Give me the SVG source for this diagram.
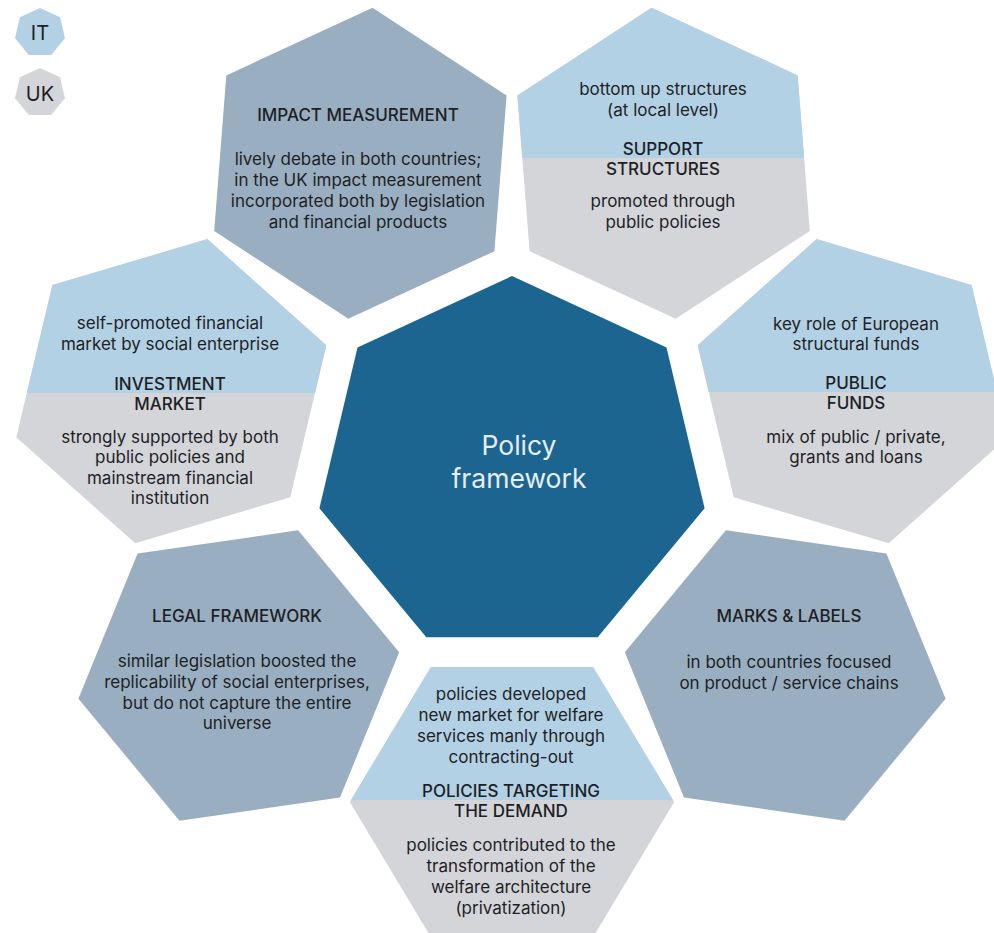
<svg xmlns="http://www.w3.org/2000/svg" width="994" height="933" viewBox="0 0 994 933">
<style>
text{font-family:Inter,Roboto,"Liberation Sans",Arial,sans-serif;fill:#1e1f26;text-anchor:middle}
.b{font-size:17px}
.h{font-size:17px;font-weight:500}
.c{font-size:26.5px;fill:#e8eef3}
.lg{font-size:20px}
.slate{fill:#99aec0}
.lblue{fill:#b3d1e4}
.grey{fill:#d4d5d9}
.core{fill:#1b6590}
</style>
<defs>
<clipPath id="cpS"><rect x="0" y="0" width="994" height="158"/></clipPath>
<clipPath id="cpP"><rect x="0" y="0" width="994" height="392"/></clipPath>
<clipPath id="cpI"><rect x="0" y="0" width="994" height="393"/></clipPath>
<clipPath id="cpD"><rect x="0" y="0" width="994" height="800"/></clipPath>
</defs>
<rect width="994" height="933" fill="#ffffff"/>

<g id="legend-it">
<polygon class="lblue" points="40,8 60.1,17.3 65,38.2 51.1,55 28.9,55 15,38.2 19.9,17.3"/>
<text class="lg" x="40" y="40">IT</text>
</g>
<g id="legend-uk">
<polygon class="grey" points="40,68 60.1,77.3 65,98.2 51.1,115 28.9,115 15,98.2 19.9,77.3"/>
<text class="lg" x="40" y="101">UK</text>
</g>

<g id="policy-framework">
<polygon class="core" points="512,276 666.5,347.5 704.6,508.3 597.7,637.2 426.3,637.2 319.4,508.3 357.5,347.5"/>
<text class="c" x="519" y="455">Policy</text>
<text class="c" x="519" y="488">framework</text>
</g>

<g id="impact-measurement">
<polygon class="slate" points="372.5,7.7 506.6,95.6 494.4,251.2 348.3,318.8 214.2,231 226.3,75.4"/>
<text class="h" x="358" y="121">IMPACT MEASUREMENT</text>
<text class="b" x="358" y="165">lively debate in both countries;</text>
<text class="b" x="358" y="186">in the UK impact measurement</text>
<text class="b" x="358" y="207">incorporated both by legislation</text>
<text class="b" x="358" y="228">and financial products</text>
</g>

<g id="support-structures">
<polygon class="grey" points="797.7,75.4 809.8,231 675.7,318.8 529.6,251.2 517.4,95.6 651.5,7.7"/>
<polygon class="lblue" clip-path="url(#cpS)" points="797.7,75.4 809.8,231 675.7,318.8 529.6,251.2 517.4,95.6 651.5,7.7"/>
<text class="b" x="663" y="95">bottom up structures</text>
<text class="b" x="663" y="116">(at local level)</text>
<text class="h" x="663" y="155">SUPPORT</text>
<text class="h" x="663" y="175">STRUCTURES</text>
<text class="b" x="663" y="207">promoted through</text>
<text class="b" x="663" y="228">public policies</text>
</g>

<g id="public-funds">
<polygon class="grey" points="1007.7,437.2 888.8,543.3 733.7,497.3 697.7,345.3 816.6,239.1 971.6,285.1"/>
<polygon class="lblue" clip-path="url(#cpP)" points="1007.7,437.2 888.8,543.3 733.7,497.3 697.7,345.3 816.6,239.1 971.6,285.1"/>
<text class="b" x="856" y="330">key role of European</text>
<text class="b" x="856" y="350">structural funds</text>
<text class="h" x="856" y="389">PUBLIC</text>
<text class="h" x="856" y="409">FUNDS</text>
<text class="b" x="856" y="443">mix of public / private,</text>
<text class="b" x="856" y="463">grants and loans</text>
</g>

<g id="marks-labels">
<polygon class="slate" points="844.5,820.7 684,797.5 624.8,652.2 725.9,530.3 886.4,553.5 945.6,698.7"/>
<text class="h" x="789" y="622">MARKS &amp; LABELS</text>
<text class="b" x="789" y="668">in both countries focused</text>
<text class="b" x="789" y="689">on product / service chains</text>
</g>

<g id="policies-targeting-demand">
<polygon class="grey" points="430.9,937.1 349.8,802 430.9,666.9 593.1,666.9 674.2,802 593.1,937.1"/>
<polygon class="lblue" clip-path="url(#cpD)" points="430.9,937.1 349.8,802 430.9,666.9 593.1,666.9 674.2,802 593.1,937.1"/>
<text class="b" x="511" y="700">policies developed</text>
<text class="b" x="511" y="721">new market for welfare</text>
<text class="b" x="511" y="742">services manly through</text>
<text class="b" x="511" y="763">contracting-out</text>
<text class="h" x="511" y="797">POLICIES TARGETING</text>
<text class="h" x="511" y="817">THE DEMAND</text>
<text class="b" x="511" y="851">policies contributed to the</text>
<text class="b" x="511" y="872">transformation of the</text>
<text class="b" x="511" y="893">welfare architecture</text>
<text class="b" x="511" y="914">(privatization)</text>
</g>

<g id="legal-framework">
<polygon class="slate" points="78.4,698.7 137.6,553.5 298.1,530.3 399.2,652.2 340,797.5 179.5,820.7"/>
<text class="h" x="237" y="622">LEGAL FRAMEWORK</text>
<text class="b" x="237" y="667">similar legislation boosted the</text>
<text class="b" x="237" y="688">replicability of social enterprises,</text>
<text class="b" x="237" y="709">but do not capture the entire</text>
<text class="b" x="237" y="729">universe</text>
</g>

<g id="investment-market">
<polygon class="grey" points="52.4,285.1 207.4,239.1 326.3,345.3 290.3,497.3 135.2,543.3 16.3,437.2"/>
<polygon class="lblue" clip-path="url(#cpI)" points="52.4,285.1 207.4,239.1 326.3,345.3 290.3,497.3 135.2,543.3 16.3,437.2"/>
<text class="b" x="170" y="329">self-promoted financial</text>
<text class="b" x="170" y="350">market by social enterprise</text>
<text class="h" x="170" y="390">INVESTMENT</text>
<text class="h" x="170" y="410">MARKET</text>
<text class="b" x="170" y="443">strongly supported by both</text>
<text class="b" x="170" y="463">public policies and</text>
<text class="b" x="170" y="484">mainstream financial</text>
<text class="b" x="170" y="504">institution</text>
</g>
</svg>
